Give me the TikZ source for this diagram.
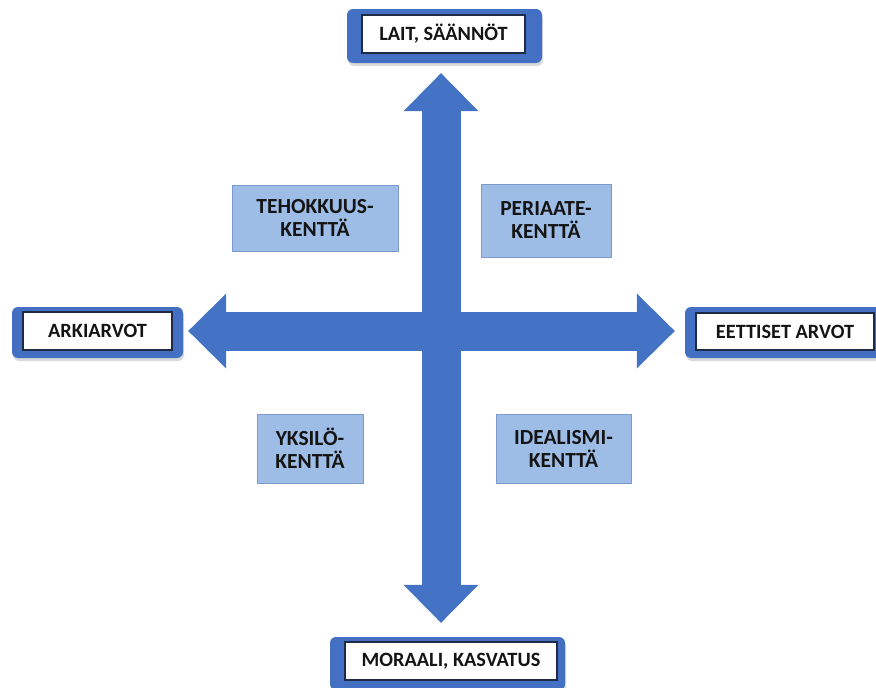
\documentclass[tikz,border=0pt]{standalone}
\usepackage{fontspec}
\setmainfont{Carlito}
\usepackage{tikz}
\usetikzlibrary{arrows.meta}
\usetikzlibrary{positioning}
\usetikzlibrary{shadows}
\definecolor{arrowblue}{HTML}{4472C4}
\definecolor{frameblue}{HTML}{4370C2}
\definecolor{framenavy}{HTML}{1F2A44}
\definecolor{fieldfill}{HTML}{9DBDE6}
\definecolor{fieldline}{HTML}{7C9CCB}
\definecolor{labeltext}{HTML}{141414}
\tikzstyle{every node}+=[inner sep=0pt]
\tikzstyle{poleframe} = [rectangle, fill=frameblue, rounded corners=6pt, drop shadow={shadow xshift=1pt, shadow yshift=-3pt, opacity=0.3}]
\tikzstyle{polebox} = [rectangle, draw=framenavy, line width=1.2pt, fill=white, text=labeltext, font=\bfseries\fontsize{20.3}{24}\selectfont, text centered]
\tikzstyle{fieldbox} = [rectangle, draw=fieldline, line width=0.8pt, fill=fieldfill, text=labeltext, font=\bfseries\fontsize{21.5}{23}\selectfont, align=center]
\tikzstyle{bigarrow} = [draw=arrowblue, line width=39pt, {Triangle[length=38pt, width=75pt, line width=0pt]}-{Triangle[length=38pt, width=75pt, line width=0pt]}]

\begin{document}
\begin{tikzpicture}[x=1pt, y=-1pt]
          \useasboundingbox (0,0) rectangle (876,688);
          \clip (0,0) rectangle (876,688);
          % Place nodes
          \node [poleframe, minimum width=195pt, minimum height=54pt] (laitframe) at (444.5,36) {};
          \node [polebox, minimum width=163pt, minimum height=38pt] (lait) at (443.5,34) {LAIT, SÄÄNNÖT};
          \node [poleframe, minimum width=171pt, minimum height=51pt] (arkiframe) at (97.5,332.5) {};
          \node [polebox, minimum width=149pt, minimum height=38pt] (arki) at (97.5,331) {ARKIARVOT};
          \node [poleframe, minimum width=201pt, minimum height=51pt] (eettisetframe) at (785.5,332.5) {};
          \node [polebox, minimum width=178pt, minimum height=37pt] (eettiset) at (785,331.5) {EETTISET ARVOT};
          \node [poleframe, minimum width=235pt, minimum height=53pt] (moraaliframe) at (447.5,663.5) {};
          \node [polebox, minimum width=212pt, minimum height=38pt] (moraali) at (451,661) {MORAALI, KASVATUS};
          \node [fieldbox, minimum width=166pt, minimum height=66pt] (tehokkuus) at (315,218) {TEHOKKUUS-\\KENTTÄ};
          \node [fieldbox, minimum width=130pt, minimum height=73pt] (periaate) at (546,220.5) {PERIAATE-\\KENTTÄ};
          \node [fieldbox, minimum width=106pt, minimum height=69pt] (yksilo) at (310,448.5) {YKSILÖ-\\KENTTÄ};
          \node [fieldbox, minimum width=135pt, minimum height=69pt] (idealismi) at (563.5,448.5) {IDEALISMI-\\KENTTÄ};
          \coordinate (hub) at (441,331);
          % Draw edges
          \path [bigarrow, shorten <=10pt, shorten >=14pt] (hub |- laitframe.south) -- (hub |- moraaliframe.north);
          \path [bigarrow, shorten <=5pt, shorten >=10pt] (arkiframe.east |- hub) -- (eettisetframe.west |- hub);
        \end{tikzpicture}
\end{document}
